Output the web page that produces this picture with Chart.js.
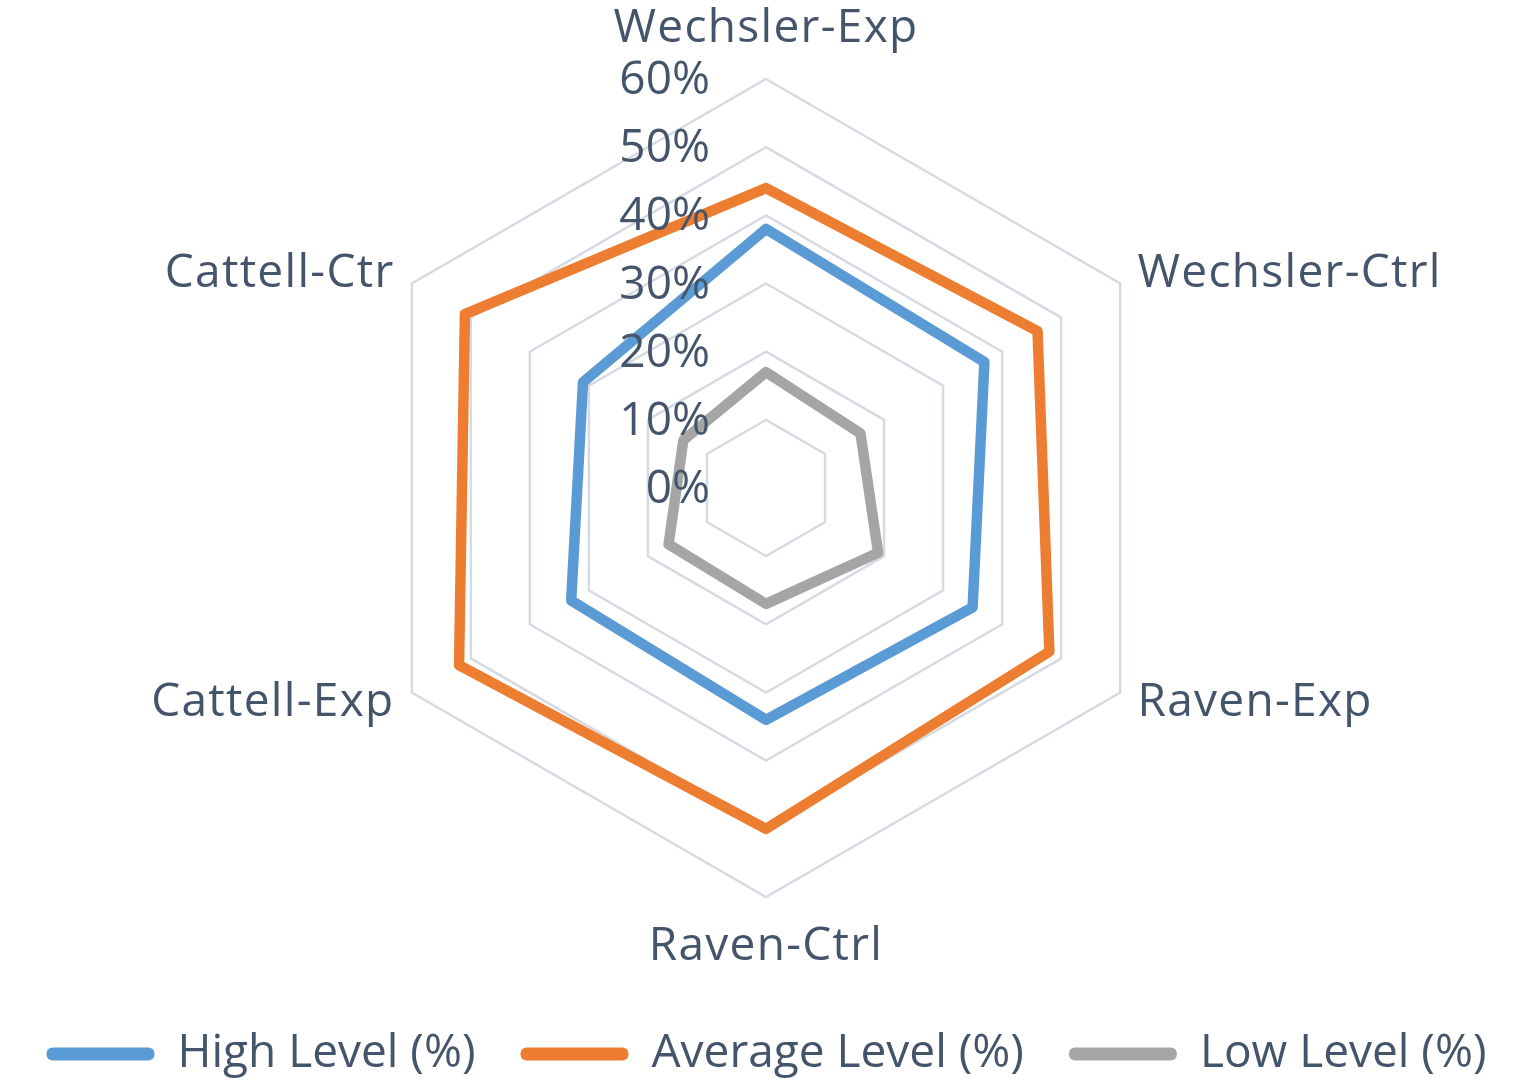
<!DOCTYPE html>
<html>
<head>
<meta charset="utf-8">
<script src="https://cdn.jsdelivr.net/npm/chart.js@4.4.1/dist/chart.umd.min.js"></script>
<style>
  html, body { margin: 0; padding: 0; background: #fff; }
  #wrap { width: 1535px; height: 1087px; }
</style>
</head>
<body>
<div id="wrap"><canvas id="myChart"></canvas></div>
<script>
const categories = ["Wechsler-Exp", "Wechsler-Ctrl", "Raven-Exp", "Raven-Ctrl", "Cattell-Exp", "Cattell-Ctr"];
const highLevel = [38, 37, 35, 34, 33, 31];
const averageLevel = [44, 46, 48, 50, 52, 51];
const lowLevel = [17, 16, 19, 17, 16.5, 14];

const textColor = "#44546A";
const fontFamily = "'Open Sans', 'Liberation Sans', sans-serif";

// tick labels and category labels drawn by hand so they sit like the Excel original
const labelPlugin = {
  id: "labelPlugin",
  afterDatasetsDraw(chart) {
    const scale = chart.scales.r;
    const ctx = chart.ctx;
    const R = scale.drawingArea;
    ctx.save();
    ctx.fillStyle = textColor;

    // tick labels, left of the vertical axis
    ctx.font = "46px " + fontFamily;
    ctx.textAlign = "right";
    ctx.textBaseline = "middle";
    scale.ticks.forEach((t) => {
      const d = scale.getDistanceFromCenterForValue(t.value);
      ctx.fillText(t.value + "%", scale.xCenter - 56, scale.yCenter - d + 2);
    });

    // category labels
    ctx.font = "46px " + fontFamily;
    ctx.letterSpacing = "1.3px";
    categories.forEach((name, i) => {
      const vertical = i === 0 || i === 3;
      const p = scale.getPointPosition(i, R + (vertical ? 50 : 20));
      if (vertical) ctx.textAlign = "center";
      else ctx.textAlign = p.x > scale.xCenter ? "left" : "right";
      ctx.fillText(name, p.x, p.y);
    });
    ctx.restore();
  },
};

const ctx = document.getElementById("myChart");

const myChart = new Chart(ctx, {
  type: "radar",
  data: {
    labels: categories,
    datasets: [
      {
        label: "High Level (%)",
        data: highLevel,
        borderColor: "#5B9BD5",
        backgroundColor: "#5B9BD5",
      },
      {
        label: "Average Level (%)",
        data: averageLevel,
        borderColor: "#ED7D31",
        backgroundColor: "#ED7D31",
      },
      {
        label: "Low Level (%)",
        data: lowLevel,
        borderColor: "#A5A5A5",
        backgroundColor: "#A5A5A5",
      },
    ],
  },
  options: {
    responsive: true,
    maintainAspectRatio: false,
    animation: false,
    layout: {
      padding: { top: 79, bottom: 0, left: 0, right: 2 },
    },
    elements: {
      line: { borderWidth: 10.5, fill: false, tension: 0, borderJoinStyle: "round" },
      point: { radius: 0, hoverRadius: 0 },
    },
    plugins: {
      tooltip: { enabled: false },
      legend: {
        position: "bottom",
        title: {
          display: true,
          text: "",
          font: { size: 12, lineHeight: 1 },
          padding: { top: 77, bottom: 0 },
        },
        labels: {
          color: textColor,
          font: { family: fontFamily, size: 46 },
          boxWidth: 108,
          boxHeight: 13,
          padding: 45,
          useBorderRadius: true,
          borderRadius: 6,
          generateLabels: (chart) =>
            chart.data.datasets.map((ds, i) => ({
              text: ds.label,
              fillStyle: ds.borderColor,
              strokeStyle: ds.borderColor,
              lineWidth: 0,
              borderRadius: 6,
              fontColor: textColor,
              hidden: false,
              datasetIndex: i,
            })),
        },
      },
    },
    scales: {
      r: {
        min: 0,
        max: 60,
        ticks: { stepSize: 10, display: false },
        pointLabels: { display: false },
        angleLines: { display: false },
        grid: { color: "#D6DBE3", lineWidth: 2.5 },
      },
    },
  },
  plugins: [labelPlugin],
});
</script>
</body>
</html>
